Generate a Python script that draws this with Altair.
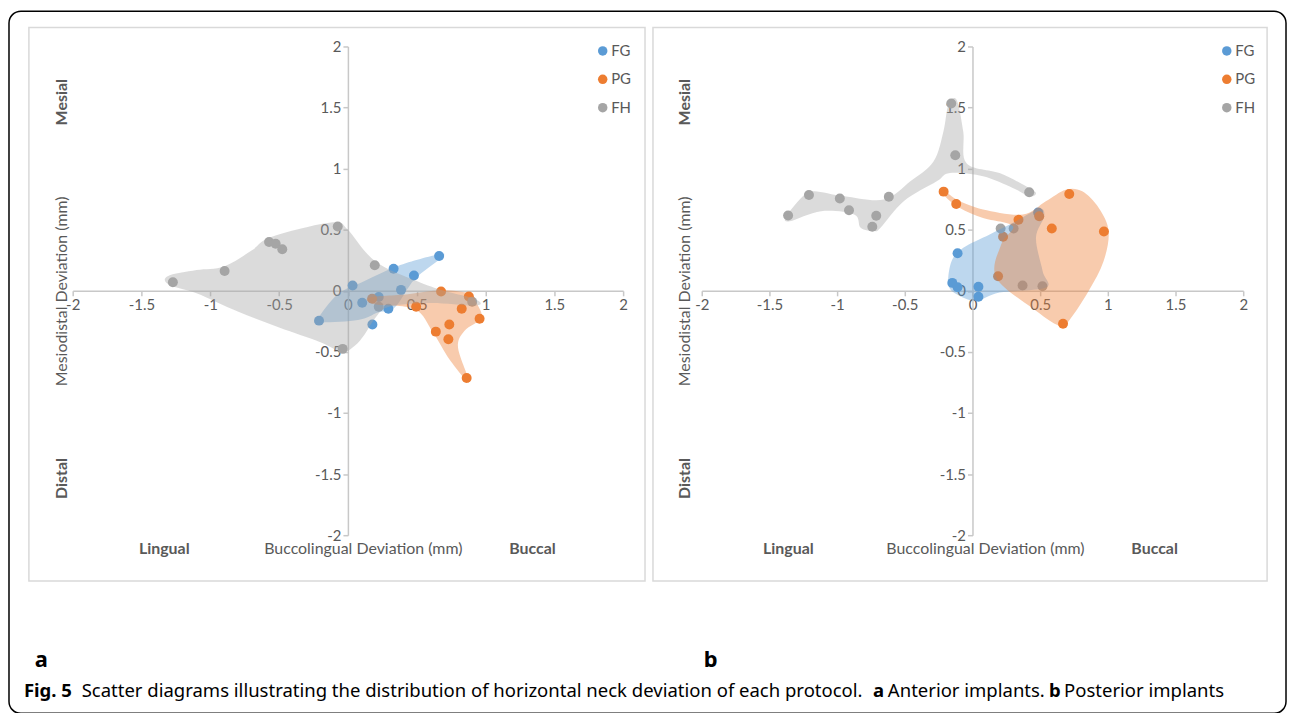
import altair as alt
import pandas as pd

groups = ["FG", "PG", "FH"]
colors = ["#5B9BD5", "#ED7D31", "#A5A5A5"]
ticks = [-2, -1.5, -1, -0.5, 0, 0.5, 1, 1.5, 2]

# ---- Panel a: anterior implants (points) ----
a_fg_x = [0.663, 0.332, 0.480, 0.034, 0.386, 0.104, 0.224, 0.294, -0.210, 0.178]
a_fg_y = [0.285, 0.180, 0.125, 0.043, 0.008, -0.098, -0.050, -0.147, -0.244, -0.275]
a_pg_x = [0.677, 0.176, 0.496, 0.879, 0.827, 0.957, 0.737, 0.639, 0.730, 0.863]
a_pg_y = [-0.005, -0.065, -0.130, -0.046, -0.147, -0.228, -0.275, -0.334, -0.397, -0.714]
a_fh_x = [-1.272, -0.896, -0.573, -0.525, -0.477, -0.074, -0.038, 0.195, 0.224, 0.903]
a_fh_y = [0.070, 0.163, 0.400, 0.385, 0.340, 0.527, -0.475, 0.210, -0.130, -0.090]

# ---- Panel a: shaded hull outlines ----
a_fh_hx = [-1.31, -1.1, -0.9, -0.7, -0.58, -0.3, -0.08, 0.0, 0.2, 0.5, 0.7, 0.93, 0.93, 0.6, 0.3, 0.2, 0.12, 0.05, -0.04, -0.2, -0.5, -0.8, -1.1, -1.3]
a_fh_hy = [0.12, 0.17, 0.2, 0.33, 0.43, 0.52, 0.56, 0.5, 0.24, 0.08, 0.0, -0.07, -0.12, -0.1, -0.13, -0.22, -0.36, -0.45, -0.5, -0.42, -0.3, -0.17, -0.02, 0.05]
a_fg_hx = [0.662, 0.364, 0.121, -0.073, -0.216, -0.216, 0.073, 0.218, 0.34, 0.485, 0.679]
a_fg_hy = [0.299, 0.204, 0.081, -0.027, -0.222, -0.258, -0.239, -0.177, -0.136, 0.095, 0.271]
a_pg_hx = [0.158, 0.436, 0.679, 0.885, 0.933, 0.97, 0.848, 0.8, 0.878, 0.85, 0.727, 0.618, 0.485, 0.194]
a_pg_hy = [-0.054, -0.027, 0.005, -0.022, -0.095, -0.222, -0.326, -0.462, -0.728, -0.72, -0.543, -0.34, -0.149, -0.109]

# ---- Panel b: posterior implants (points) ----
b_fg_x = [0.485, -0.110, -0.149, -0.110, 0.044, 0.044]
b_fg_y = [0.641, 0.307, 0.065, 0.030, 0.033, -0.049]
b_pg_x = [-0.213, -0.120, 0.340, 0.493, 0.715, 0.586, 0.971, 0.226, 0.189, 0.669]
b_pg_y = [0.812, 0.711, 0.581, 0.611, 0.793, 0.511, 0.486, 0.442, 0.120, -0.269]
b_fh_x = [-1.362, -1.208, -0.980, -0.912, -0.740, -0.711, -0.618, -0.157, -0.127, 0.419, 0.208, 0.304, 0.370, 0.517]
b_fh_y = [0.617, 0.785, 0.755, 0.660, 0.524, 0.614, 0.770, 1.534, 1.110, 0.807, 0.510, 0.510, 0.043, 0.038]

# ---- Panel b: shaded hull outlines ----
b_fh_hx = [-1.375, -1.24, -1.167, -0.947, -0.654, -0.459, -0.288, -0.215, -0.178, -0.117, -0.068, -0.044, 0.2, 0.396, 0.469, 0.42, 0.298, 0.078, -0.166, -0.264, -0.508, -0.679, -0.727, -0.826, -0.874, -1.118, -1.35]
b_fh_hy = [0.611, 0.788, 0.815, 0.774, 0.747, 0.896, 1.059, 1.303, 1.521, 1.562, 1.303, 1.045, 0.964, 0.855, 0.8, 0.774, 0.842, 0.937, 0.964, 0.896, 0.733, 0.516, 0.489, 0.516, 0.625, 0.652, 0.57]
b_fg_hx = [-0.178, -0.154, -0.068, 0.127, 0.322, 0.493, 0.53, 0.469, 0.518, 0.542, 0.2, 0.029, -0.117]
b_fg_hy = [0.054, 0.244, 0.353, 0.462, 0.57, 0.671, 0.611, 0.434, 0.163, 0.027, -0.014, -0.081, -0.027]
b_pg_hx = [-0.227, -0.117, 0.078, 0.371, 0.542, 0.689, 0.811, 0.933, 1.006, 0.969, 0.859, 0.713, 0.64, 0.469, 0.176, 0.212, 0.298, 0.078, -0.093, -0.203]
b_pg_hy = [0.842, 0.747, 0.666, 0.625, 0.733, 0.828, 0.815, 0.679, 0.489, 0.244, 0.0, -0.244, -0.285, -0.163, 0.108, 0.38, 0.53, 0.597, 0.679, 0.774]

GREY_TXT = "#595959"
FONT = "Lato"
H = 491
one = pd.DataFrame({"k": [0]})


def pts_df(xs_list, ys_list):
    rows = []
    for g, xs, ys in zip(groups, xs_list, ys_list):
        for x, y in zip(xs, ys):
            rows.append({"g": g, "x": x, "y": y})
    return pd.DataFrame(rows)


def hull_df(xs, ys):
    return pd.DataFrame({"x": xs, "y": ys, "i": list(range(len(xs)))})


def txt(s, x, y, size=16, bold=False, angle=0, align="center", color=GREY_TXT, font=FONT):
    return alt.Chart(one).mark_text(
        text=s, font=font, fontSize=size, fontWeight="bold" if bold else "normal",
        angle=angle, align=align, baseline="middle", color=color
    ).encode(x=alt.value(x), y=alt.value(y))


def panel(W, pts, hulls, lx, box, legx):
    xs = alt.Scale(domain=[-2, 2], nice=False, zero=False)
    ys = alt.Scale(domain=[-2, 2], nice=False, zero=False)
    common = dict(values=ticks, grid=False, title=None,
                  labelExpr="'' + datum.value", domainColor="#C8C8C8", domainWidth=1.5,
                  tickColor="#C8C8C8", tickWidth=1.5, tickSize=5, labelPadding=2,
                  labelFont=FONT, labelFontSize=15, labelColor=GREY_TXT, labelFlush=False)
    xaxis = alt.Axis(offset=-H / 2, **common)
    yaxis = alt.Axis(offset=-W / 2, **common)

    boxl = alt.Chart(one).mark_rect(fillOpacity=0, stroke="#D9D9D9", strokeWidth=1.5).encode(
        x=alt.value(box[0]), x2=alt.value(box[1]), y=alt.value(-19), y2=alt.value(537))

    points = alt.Chart(pts).mark_circle(size=100, opacity=1).encode(
        x=alt.X("x:Q", scale=xs, axis=xaxis),
        y=alt.Y("y:Q", scale=ys, axis=yaxis),
        color=alt.Color("g:N", scale=alt.Scale(domain=groups, range=colors),
                        legend=alt.Legend(title=None, orient="none", legendX=legx, legendY=-3,
                                          symbolType="circle", symbolSize=90, labelFont=FONT,
                                          labelFontSize=15, labelColor=GREY_TXT, rowPadding=12.5,
                                          symbolStrokeWidth=0, labelOffset=1)),
    )
    layers = [boxl, points]
    for (hx, hy), c in zip(hulls, colors):
        layers.append(
            alt.Chart(hull_df(hx, hy)).mark_line(
                interpolate="cardinal-closed", fill=c, fillOpacity=0.4, strokeOpacity=0, strokeWidth=0
            ).encode(x=alt.X("x:Q", scale=xs), y=alt.Y("y:Q", scale=ys), order="i:Q")
        )
    layers += [
        txt("Mesial", lx[0], 56, bold=True, angle=270),
        txt("Mesiodistal Deviation (mm)", lx[0], 246, angle=270),
        txt("Distal", lx[0], 434, bold=True, angle=270),
        txt("Lingual", lx[1], 505, bold=True),
        txt("Buccolingual Deviation (mm)", lx[2], 505),
        txt("Buccal", lx[3], 505, bold=True),
    ]
    return layers


a_layers = panel(
    553,
    pts_df([a_fg_x, a_pg_x, a_fh_x], [a_fg_y, a_pg_y, a_fh_y]),
    [(a_fg_hx, a_fg_hy), (a_pg_hx, a_pg_hy), (a_fh_hx, a_fh_hy)],
    (-11, 92, 292, 462), (-44, 575), 525,
)
b_layers = panel(
    544,
    pts_df([b_fg_x, b_pg_x, b_fh_x], [b_fg_y, b_pg_y, b_fh_y]),
    [(b_fg_hx, b_fg_hy), (b_pg_hx, b_pg_hy), (b_fh_hx, b_fh_hy)],
    (-17, 87, 285, 455), (-49, 568), 520,
)

frame = alt.Chart(one).mark_rect(fillOpacity=0, stroke="#000000", strokeWidth=1.5, cornerRadius=12).encode(
    x=alt.value(-64), x2=alt.value(1219), y=alt.value(-35.5), y2=alt.value(670))
CAP = "Noto Sans"
CS = 18.6
a_layers = [frame] + a_layers + [
    txt("a", -38, 616, size=22, bold=True, color="#000000", align="left", font=CAP),
    txt("Fig. 5", -49, 648, size=CS, bold=True, color="#000000", align="left", font=CAP),
    txt("Scatter diagrams illustrating the distribution of horizontal neck deviation of each protocol.",
        9, 648, size=CS, color="#000000", align="left", font=CAP),
    txt("a", 804, 648, size=CS, bold=True, color="#000000", align="left", font=CAP),
    txt("Anterior implants.", 819, 648, size=CS, color="#000000", align="left", font=CAP),
    txt("b", 981, 648, size=CS, bold=True, color="#000000", align="left", font=CAP),
    txt("Posterior implants", 996, 648, size=CS, color="#000000", align="left", font=CAP),
]
b_layers = b_layers + [
    txt("b", 2, 616, size=22, bold=True, color="#000000", align="left", font=CAP),
]

pa = alt.layer(*a_layers).properties(width=553, height=H)
pb = alt.layer(*b_layers).properties(width=544, height=H)

chart = alt.hconcat(pa, pb, spacing=79, bounds="flush").resolve_scale(
    x="independent", y="independent", color="independent"
).resolve_legend(color="independent").properties(padding=0).configure_view(stroke=None)

chart.save("out.html", embed_options={"renderer": "svg", "actions": False})
